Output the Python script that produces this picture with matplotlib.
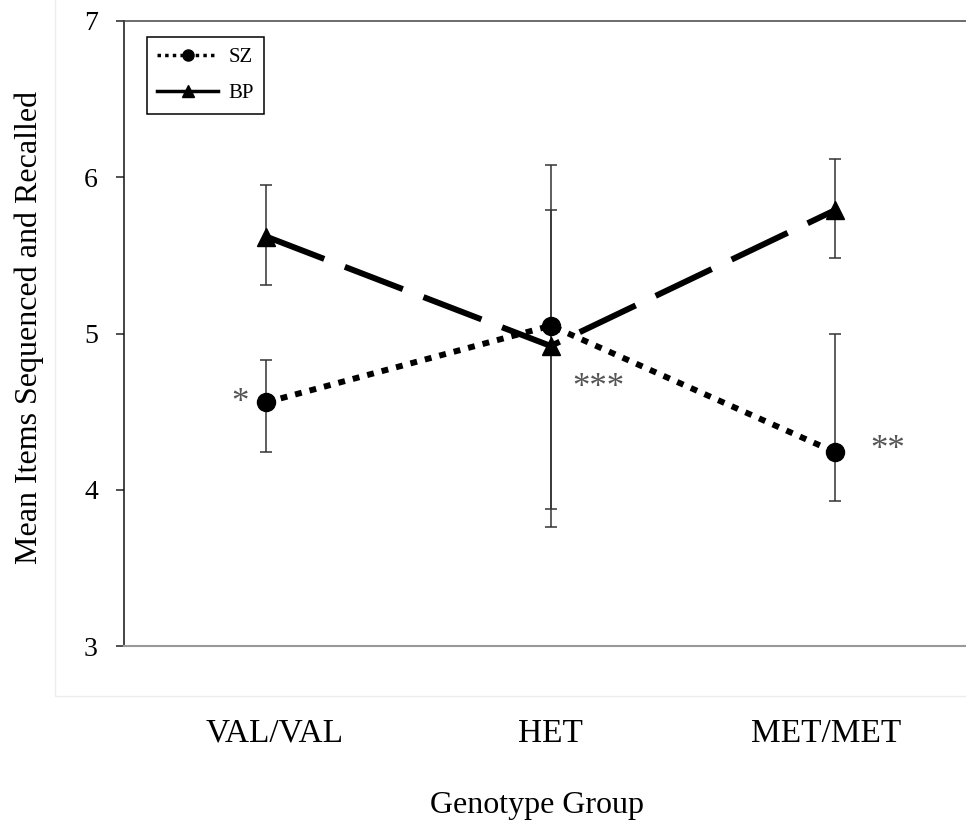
import matplotlib
matplotlib.use("Agg")
import matplotlib.pyplot as plt
import matplotlib.transforms as mtransforms
from matplotlib.lines import Line2D
from matplotlib.patches import Rectangle

# veri
groups = ["VAL/VAL", "HET", "MET/MET"]
sz_mean = [4.56, 5.05, 4.24]
sz_upper = [4.83, 6.08, 5.00]
sz_lower = [4.24, 3.88, 3.93]
bp_mean = [5.62, 4.92, 5.79]
bp_upper = [5.95, 5.79, 6.12]
bp_lower = [5.31, 3.76, 5.48]
stars = ["*", "***", "**"]

plt.rcParams["font.family"] = ["Liberation Serif", "DejaVu Serif"]

fig = plt.figure(figsize=(9.66, 8.27), dpi=100)
# acik gri grafik alani cercevesi
fig.patches.append(Rectangle((55 / 966, 1 - 696 / 827), 1.0, 1.0,
                             transform=fig.transFigure, fill=False,
                             edgecolor="#ececec", linewidth=1))

ax = fig.add_axes([124 / 966, 1 - 646 / 827, 853.5 / 966, 625 / 827])
x = list(range(len(groups)))

sz_err = [[m - lo for m, lo in zip(sz_mean, sz_lower)],
          [up - m for m, up in zip(sz_mean, sz_upper)]]
bp_err = [[m - lo for m, lo in zip(bp_mean, bp_lower)],
          [up - m for m, up in zip(bp_mean, bp_upper)]]

ax.errorbar(x, sz_mean, yerr=sz_err, fmt="none", ecolor="#333333",
            elinewidth=1.1, capsize=4.5, capthick=1.1, zorder=2)
ax.errorbar(x, bp_mean, yerr=bp_err, fmt="none", ecolor="#333333",
            elinewidth=1.1, capsize=4.5, capthick=1.1, zorder=2)

ax.plot(x, sz_mean, color="black", lw=4.3, dashes=(1.15, 1.35),
        dash_capstyle="butt", marker="o", markersize=13, zorder=3)
ax.plot(x, bp_mean, color="black", lw=4.3, dashes=(10.4, 3.7),
        dash_capstyle="butt", marker="^", markersize=13, zorder=3)

# anlamlilik yildizlari
offsets = [(-19, -1), (34.5, -45), (38, 1)]
for xi, yi, s, off in zip(x, sz_mean, stars, offsets):
    ax.annotate(s, xy=(xi, yi), xytext=off, textcoords="offset points",
                ha="center", va="center", fontsize=25, color="#555555")

ax.set_xlim(-0.5, 2.5)
ax.set_ylim(3, 7)
ax.set_yticks([3, 4, 5, 6, 7])
ax.set_xticks(x)
ax.set_xticklabels(groups, fontsize=24)
ax.tick_params(axis="x", length=0, pad=52)
ax.tick_params(axis="y", length=5.8, width=1.1, direction="out",
               labelsize=20, pad=13, color="#222222")

# etiketleri referanstaki gibi hafif kaydir
for lab, dx in zip(ax.get_xticklabels(), [8, 0, -9]):
    lab.set_transform(lab.get_transform() +
                      mtransforms.ScaledTranslation(dx / 100, 0, fig.dpi_scale_trans))

ax.spines["right"].set_visible(False)
ax.spines["left"].set_color("#111111")
ax.spines["left"].set_linewidth(1.1)
ax.spines["top"].set_color("#444444")
ax.spines["top"].set_linewidth(1.1)
ax.spines["bottom"].set_color("#999999")
ax.spines["bottom"].set_linewidth(1.5)

fig.text(29 / 966, 1 - 327 / 827, "Mean Items Sequenced and Recalled",
         rotation=90, ha="center", va="center", fontsize=23)
fig.text(537 / 966, 1 - 806 / 827, "Genotype Group",
         ha="center", va="center", fontsize=23)

handles = [
    Line2D([], [], color="black", lw=2.5, dashes=(1, 1.2), marker="o",
           markersize=8),
    Line2D([], [], color="black", lw=2.5, marker="^", markersize=8),
]
leg = ax.legend(handles, ["SZ", "BP"], loc="upper left",
                bbox_to_anchor=(0.027, 0.974), borderaxespad=0, fontsize=15,
                handlelength=2.9, handletextpad=0.5, labelspacing=0.8,
                borderpad=0.5, fancybox=False, framealpha=1,
                edgecolor="black")
leg.get_frame().set_linewidth(1.1)

fig.savefig("out.png", dpi=100)
